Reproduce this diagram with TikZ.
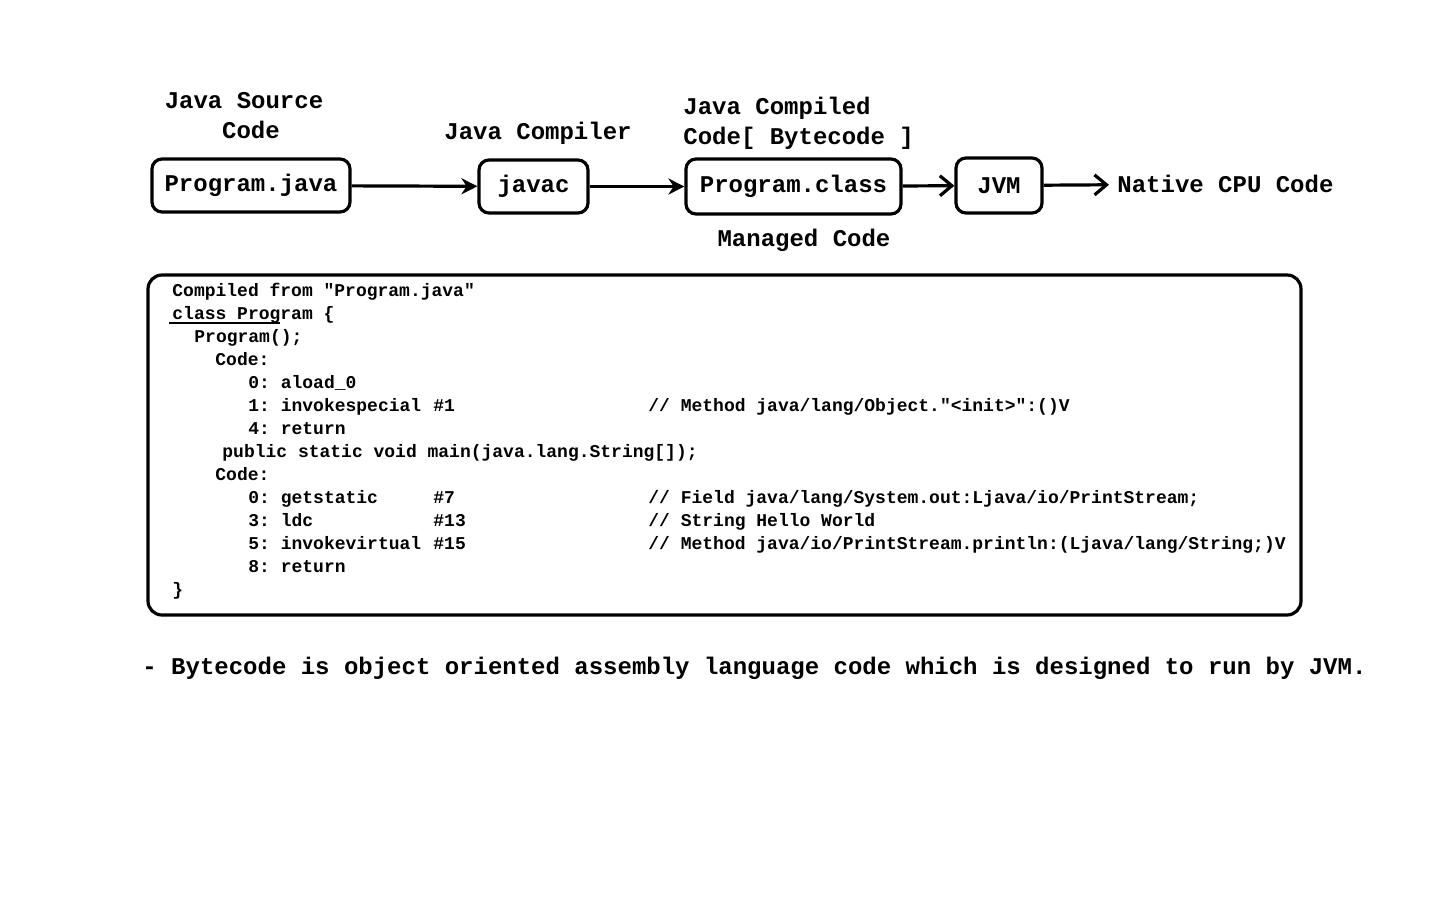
\documentclass[tikz,border=0pt]{standalone}
\usepackage{fontspec}
\setmainfont{Liberation Mono}
\newfontfamily\codefont{Liberation Mono}
\usepackage{tikz}
\usetikzlibrary{arrows.meta, positioning}
\frenchspacing

\tikzset{
  stagebox/.style={draw, line width=1.6pt, rounded corners=5pt, inner sep=0pt,
                   font=\fontsize{12}{15}\selectfont\bfseries},
  title/.style={font=\fontsize{12}{15}\selectfont\bfseries, inner sep=0pt},
  codeline/.style={font=\codefont\fontsize{9}{11}\selectfont\bfseries, inner sep=0pt,
                   anchor=west, text height=6.5pt, text depth=1.5pt},
  flow/.style={line width=1.6pt, -{Stealth[length=8pt, width=8pt]}},
  outflow/.style={line width=1.6pt, -{Straight Barb[length=6pt, width=10pt, line width=1.6pt]}}
}

\begin{document}
\begin{tikzpicture}[x=0.5pt, y=-0.5pt]
  \useasboundingbox (0,0) rectangle (1440,900);

  % stages of the pipeline
  \node[stagebox, minimum width=99pt, minimum height=26.5pt] (src) at (251,185.5) {Program.java};
  \node[stagebox, minimum width=54.5pt, minimum height=26.5pt] (javac) at (533.5,186.5) {javac};
  \node[stagebox, minimum width=107.5pt, minimum height=27.5pt] (cls) at (793.5,186.5) {Program.class};
  \node[stagebox, minimum width=43pt, minimum height=27.5pt] (jvm) at (999,185.5) {JVM};
  \node[title, inner sep=4pt, anchor=west] (native) at (1109,184) {Native CPU Code};

  % captions above and below
  \node[title, align=center] (srccap) at (244,116) {Java Source\\\hspace*{7pt}Code};
  \node[title] (javaccap) at (538,133) {Java Compiler};
  \node[title, align=left, anchor=west] (clscap) at (683,123.5) {Java Compiled\\Code[ Bytecode ]};
  \node[title] (managed) at (804,240) {Managed Code};

  % arrows
  \draw[flow] (src) -- (javac);
  \draw[flow] (javac) -- (cls);
  \draw[outflow] (cls) -- (jvm);
  \draw[outflow] (jvm) -- (native);

  % bytecode listing
  \draw[line width=1.6pt, rounded corners=7pt] (148,275) rectangle (1301,615);
  \node[codeline] (l1) at (172,291) {Compiled from \symbol{34}Program.java\symbol{34}};
  \node[codeline] (l2) at (172,314) {class Program \{};
  \draw[line width=1.3pt] (169,323) -- (280,323);
  \node[codeline] (l3) at (194,337) {Program();};
  \node[codeline] (l4) at (215,360) {Code:};
  \node[codeline] (l5) at (248,383) {0: aload\_0};
  \node[codeline] (l6) at (248,406) {1: invokespecial};
  \node[codeline] (l6b) at (433,406) {\#1};
  \node[codeline] (l6c) at (648,406) {// Method java/lang/Object.\symbol{34}<init>\symbol{34}:()V};
  \node[codeline] (l7) at (248,429) {4: return};
  \node[codeline] (l8) at (222,452) {public static void main(java.lang.String[]);};
  \node[codeline] (l9) at (215,475) {Code:};
  \node[codeline] (l10) at (248,498) {0: getstatic};
  \node[codeline] (l10b) at (433,498) {\#7};
  \node[codeline] (l10c) at (648,498) {// Field java/lang/System.out:Ljava/io/PrintStream;};
  \node[codeline] (l11) at (248,521) {3: ldc};
  \node[codeline] (l11b) at (433,521) {\#13};
  \node[codeline] (l11c) at (648,521) {// String Hello World};
  \node[codeline] (l12) at (248,544) {5: invokevirtual};
  \node[codeline] (l12b) at (433,544) {\#15};
  \node[codeline] (l12c) at (648,544) {// Method java/io/PrintStream.println:(Ljava/lang/String;)V};
  \node[codeline] (l13) at (248,567) {8: return};
  \node[codeline] (l14) at (172,590) {\}};

  % note
  \node[title, anchor=west] (note) at (142,668)
    {- Bytecode is object oriented assembly language code which is designed to run by JVM.};
\end{tikzpicture}
\end{document}
